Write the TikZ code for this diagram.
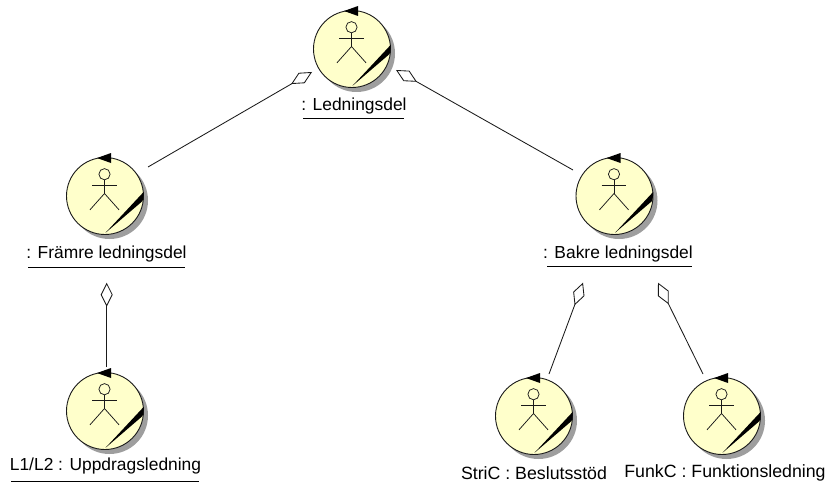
\documentclass[tikz,border=0pt]{standalone}
\usepackage{fontspec}
\setmainfont{Liberation Sans}
\usetikzlibrary{arrows.meta, shadows}
\definecolor{actorfill}{HTML}{FFFFCB}
\definecolor{lineink}{HTML}{1A1A1A}
\tikzset{
  actorbody/.style={circle, draw=lineink, line width=0.9pt, fill=actorfill, minimum size=77pt, inner sep=0pt,
    drop shadow={shadow xshift=4.5pt, shadow yshift=-4.5pt, fill=black!38, opacity=1}},
  figure/.style={lineink, line width=0.75pt},
  aggr/.style={lineink, line width=0.85pt, -{Diamond[open, length=24pt, width=12pt, line width=0.85pt]}},
  namelabel/.style={font=\fontsize{17.4}{19}\selectfont, text=black, inner sep=0pt},
  widelabel/.style={namelabel, font=\fontsize{17.75}{19}\selectfont},
  nameline/.style={black, line width=0.9pt},
  actor/.pic={
    \node[actorbody] (-circle) at (0,0) {};
    \draw[figure] (-0.5,-21.8) circle (5.6pt);
    \draw[figure] (-0.5,-16.2) -- (-0.5,-2.5);
    \draw[figure] (-12.8,-10.5) -- (11.8,-10.5);
    \draw[figure] (-15,13.8) -- (-0.5,-2.5) -- (14,13.8);
    \fill[black] (-8,-38) -- (6,-43) -- (6,-33) -- cycle;
    \fill[black] (0.3,37) -- (38.6,-4) to[bend left=8] (37.6,5) -- cycle;
  }
}

\begin{document}
\begin{tikzpicture}[x=1pt, y=-1pt]
\useasboundingbox (0,0) rectangle (826,484);

\foreach \name/\x/\y in {ledn/352/49, framre/105/196, bakre/614.5/196, uppdrag/105/411, beslut/534/416, funk/722/416}
  \pic (\name) at (\x,\y) {actor};

\node[namelabel] (lednlabel) at (354,106) {: Ledningsdel};
\node[namelabel] (framrelabel) at (106.5,254) {: Främre ledningsdel};
\node[namelabel] (bakrelabel) at (618,254) {: Bakre ledningsdel};
\node[namelabel] (uppdraglabel) at (105.5,466) {L1/L2 : Uppdragsledning};
\node[widelabel] (beslutlabel) at (534,473) {StriC : Beslutsstöd};
\node[widelabel] (funklabel) at (725,473) {FunkC : Funktionsledning};

\draw[nameline] (303,118.5) -- (404,118.5);
\draw[nameline] (28,267) -- (185,267);
\draw[nameline] (547,266) -- (692,266);
\draw[nameline] (11,481) -- (199,481);

\coordinate (framreend) at (148,167);
\coordinate (lednleft) at (312,72);
\coordinate (bakreend) at (573,170);
\coordinate (lednright) at (396,70);
\coordinate (uppdragend) at (106.7,367);
\coordinate (framrelow) at (106.7,282.7);
\coordinate (beslutend) at (549,374);
\coordinate (bakreleft) at (583,282.7);
\coordinate (funkend) at (703,374);
\coordinate (bakreright) at (658,282.7);

\draw[aggr] (framreend) -- (lednleft);
\draw[aggr] (bakreend) -- (lednright);
\draw[aggr] (uppdragend) -- (framrelow);
\draw[aggr] (beslutend) -- (bakreleft);
\draw[aggr] (funkend) -- (bakreright);
\end{tikzpicture}
\end{document}
